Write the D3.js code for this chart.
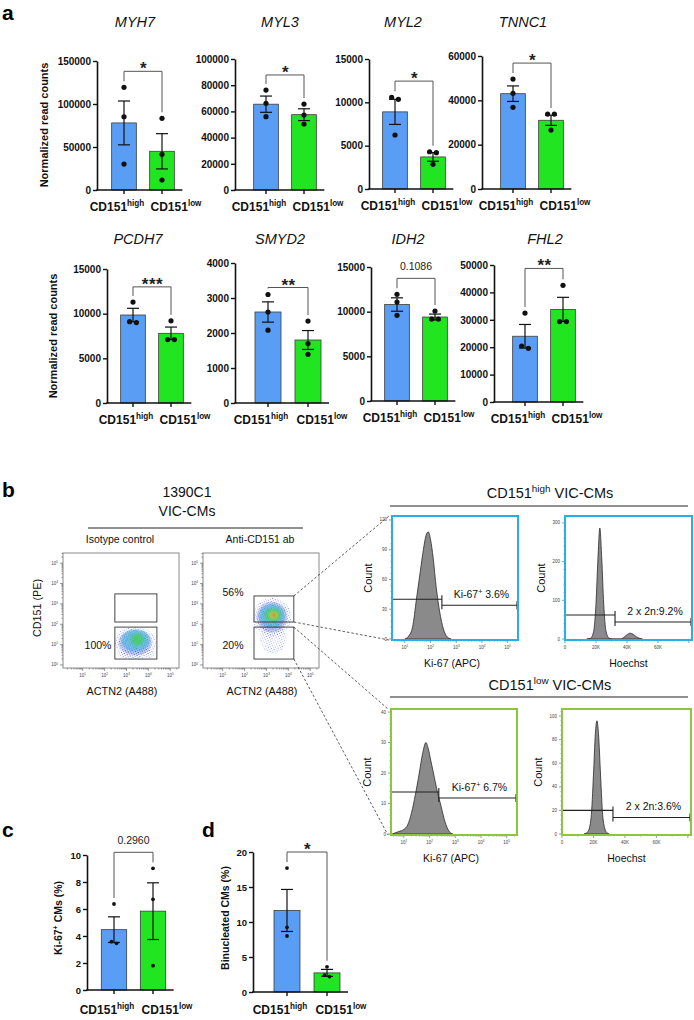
<!DOCTYPE html>
<html lang="en">
<head>
<meta charset="UTF-8">
<title>CD151 VIC-CMs</title>
<script src="https://cdn.jsdelivr.net/npm/d3@7"></script>
<style>
  body { margin: 0; background: #fff; }
  svg { font-family: Arial, "Liberation Sans", Helvetica, sans-serif; }
</style>
</head>
<body>
<svg width="694" height="1020"></svg>
<script>
// ---------- values ----------
const groups = ["CD151high", "CD151low"];
const groupSup = ["high", "low"];

const genes = ["MYH7", "MYL3", "MYL2", "TNNC1", "PCDH7", "SMYD2", "IDH2", "FHL2"];
const geneYMax = [150000, 100000, 15000, 60000, 15000, 4000, 15000, 50000];
const geneYStep = [50000, 20000, 5000, 20000, 5000, 1000, 5000, 10000];
const geneMean = [[78000, 45000], [65500, 57500], [8900, 3700], [43000, 31000],
                  [9850, 7800], [2600, 1800], [10800, 9400], [24000, 33800]];
const geneSem = [[25500, 20500], [6200, 4500], [1450, 500], [3500, 2300],
                 [750, 700], [290, 270], [750, 330], [4300, 4400]];
const genePoints = [
  [[119400, 85200, 30200], [83400, 41500, 11600]],
  [[76300, 66200, 56000], [65600, 57200, 50400]],
  [[10580, 10350, 6230], [4300, 4190, 2850]],
  [[49600, 43160, 36850], [33800, 33800, 26600]],
  [[11300, 9100, 9000], [9200, 7100, 7100]],
  [[3100, 2600, 2080], [2340, 1700, 1390]],
  [[11940, 11080, 9590], [10070, 9170, 9170]],
  [[32460, 20440, 19600], [42600, 29370, 29370]]
];
const geneSig = ["*", "*", "*", "*", "***", "**", "0.1086", "**"];
const geneBracket = [138000, 87800, 12450, 56800, 13000, 3300, 13730, 48750];

// panel c / d
const ki67Mean = [4.47, 5.84], ki67Sem = [0.95, 2.1];
const ki67Points = [[6.37, 3.58, 3.46], [9.01, 6.72, 1.80]];
const binucMean = [11.65, 2.73], binucSem = [3.0, 0.5];
const binucPoints = [[17.7, 9.24, 8.0], [3.6, 2.2, 2.4]];

// flow plots (log10 units): gates [xlo, xhi, ylo, yhi], density levels [cx, cy, rx, ry]
const isoGates = [[2.47, 4.39, 2.11, 3.49], [2.47, 4.39, 0.29, 1.86]];
const antiGates = [[2.43, 4.25, 2.11, 3.39], [2.43, 4.25, 0.29, 1.86]];
const isoCloud = [[3.4, 1.1, 0.95, 0.78], [3.42, 1.2, 0.65, 0.55], [3.5, 1.25, 0.3, 0.3]];
const isoTail = [3.45, 0.55, 0.85, 0.3];
const antiCloud = [[3.25, 2.35, 0.88, 0.95], [3.25, 2.4, 0.6, 0.6], [3.3, 2.45, 0.38, 0.34],
                   [3.32, 2.45, 0.2, 0.18], [3.33, 2.45, 0.1, 0.09]];
const antiTail = [3.3, 1.3, 0.6, 0.75];
const isoPct = ["100%"];
const antiPct = ["56%", "20%"];

// histograms
const kiHighX = [1.0, 1.15, 1.3, 1.45, 1.6, 1.72, 1.82, 1.91, 2.0, 2.1, 2.22, 2.35, 2.5, 2.65, 2.8];
const kiHighN = [0, 3, 12, 40, 68, 90, 104, 108, 100, 82, 52, 28, 10, 2, 0];
const kiLowX = [0.55, 0.8, 1.0, 1.15, 1.3, 1.45, 1.6, 1.72, 1.86, 1.95, 2.05, 2.15, 2.3, 2.45, 2.6, 2.75, 2.9];
const kiLowN = [0, 0.8, 1.5, 3, 7, 13, 20, 26, 30, 28, 24, 20, 14, 9, 4, 1, 0];
const hoHighX = [14, 16.5, 18.5, 20, 21.3, 22.5, 23.7, 25, 26.5, 28.5, 31, 36, 38, 40, 42, 44, 46, 48, 50];
const hoHighN = [0, 2, 20, 90, 210, 287, 210, 90, 20, 2, 0, 0, 4, 11, 15, 12, 6, 2, 0];
const hoLowX = [14, 16.5, 18.5, 20, 21.2, 22.2, 23.2, 24.5, 26, 28, 30];
const hoLowN = [0, 2, 14, 50, 85, 96, 85, 50, 14, 2, 0];
const gateSplit = [2.44, 32.3, 2.36, 32.4];
const gateLeftN = [40, 62, 13.8, 20];
const gateRightN = [34, 44, 11.8, 14];
const gateText = [["Ki-67", "+", " 3.6%"], ["2 x 2n:9.2%"], ["Ki-67", "+", " 6.7%"], ["2 x 2n:3.6%"]];

// ---------- drawing ----------
const svg = d3.select("svg");
const BLUE = "#5a9df5", GREEN = "#20e520";
const cloudColors = ["#2a3bd0", "#1fb8d8", "#3fd24a", "#e8e03a", "#e53a1e"];

const defs = svg.append("defs");
function dotPattern(id, spacing, r, color, shift) {
  const p = defs.append("pattern").attr("id", id).attr("width", spacing).attr("height", spacing)
    .attr("patternUnits", "userSpaceOnUse").attr("patternTransform", `rotate(${shift})`);
  p.append("circle").attr("cx", spacing * 0.3).attr("cy", spacing * 0.4).attr("r", r).attr("fill", color);
  p.append("circle").attr("cx", spacing * 0.8).attr("cy", spacing * 0.9).attr("r", r * 0.8).attr("fill", color);
}
dotPattern("dotsSparse", 3.1, 0.42, "#3548d8", 23);
dotPattern("dotsBlue", 1.9, 0.45, "#2232c0", 11);
dotPattern("dotsCyan", 1.6, 0.5, "#23b2dc", 37);
defs.append("filter").attr("id", "soft").attr("x", "-50%").attr("y", "-50%").attr("width", "200%").attr("height", "200%")
  .append("feGaussianBlur").attr("stdDeviation", 1.4);

function supLabel(g, x, y, base, sup, size, opts) {
  opts = opts || {};
  const t = g.append("text").attr("x", x).attr("y", y)
    .attr("text-anchor", opts.anchor || "middle")
    .attr("font-size", size).attr("font-weight", opts.weight || "normal")
    .attr("fill", "#111");
  if (opts.rotate) t.attr("transform", `rotate(-90,${x},${y})`);
  t.append("tspan").text(base);
  t.append("tspan").attr("font-size", size * 0.68).attr("dy", -size * 0.4).text(sup);
  if (opts.after) t.append("tspan").attr("dy", size * 0.4).text(opts.after);
  return t;
}

// spread points that would overlap, like Prism does
function spread(vals, y, r) {
  const py = vals.map(v => y(v));
  const off = vals.map(() => 0);
  const idx = d3.range(vals.length).sort((a, b) => py[a] - py[b]);
  let clusters = [], cur = [idx[0]];
  for (let k = 1; k < idx.length; k++) {
    if (py[idx[k]] - py[idx[k - 1]] < 2 * r) cur.push(idx[k]);
    else { clusters.push(cur); cur = [idx[k]]; }
  }
  clusters.push(cur);
  clusters.forEach(c => c.forEach((id, j) => off[id] = (j - (c.length - 1) / 2) * 2.6 * r));
  return off;
}

function barChart(L, o) {
  const g = svg.append("g");
  const step = L.step || 38;
  const c1 = L.ax + L.off;
  const y = d3.scaleLinear().domain([0, o.max]).range([L.base, L.top]);
  const x = d3.scaleBand().domain(groups)
    .range([c1 - step / 2, c1 + step * 1.5]).paddingInner(0.35).paddingOuter(0.175);
  const cx = d => x(d) + x.bandwidth() / 2;
  const colors = [BLUE, GREEN];

  g.selectAll("rect").data(groups).join("rect")
    .attr("x", d => x(d)).attr("width", x.bandwidth())
    .attr("y", (d, i) => y(o.mean[i]))
    .attr("height", (d, i) => y(0) - y(o.mean[i]))
    .attr("fill", (d, i) => colors[i]).attr("stroke", "#3c3c3c").attr("stroke-width", 0.8);

  groups.forEach((d, i) => {
    const lo = y(o.mean[i] - o.sem[i]), hi = y(o.mean[i] + o.sem[i]);
    const e = g.append("g").attr("stroke", "#111").attr("stroke-width", 1.2);
    e.append("line").attr("x1", cx(d)).attr("x2", cx(d)).attr("y1", lo).attr("y2", hi);
    [lo, hi].forEach(v => e.append("line").attr("x1", cx(d) - o.cap).attr("x2", cx(d) + o.cap)
      .attr("y1", v).attr("y2", v));
  });

  groups.forEach((d, i) => {
    const off = spread(o.points[i], y, o.r);
    g.selectAll(null).data(o.points[i]).join("circle")
      .attr("cx", (v, k) => cx(d) + off[k]).attr("cy", v => y(v))
      .attr("r", o.r).attr("fill", "#111");
  });

  const ya = g.append("g").attr("transform", `translate(${L.ax},0)`)
    .call(d3.axisLeft(y).tickValues(d3.range(0, o.max + o.step / 2, o.step))
      .tickSize(4).tickSizeOuter(0).tickPadding(2).tickFormat(d3.format("d")));
  ya.attr("font-family", null).attr("font-size", o.tickFont).attr("font-weight", "bold");
  ya.select(".domain").attr("stroke", "#111").attr("stroke-width", 1.6);
  ya.selectAll(".tick line").attr("stroke", "#111").attr("stroke-width", 1.4);
  ya.selectAll("text").attr("fill", "#111");

  const xEnd = cx(groups[1]) + x.bandwidth() / 2 + 8;
  const xa = g.append("g").attr("transform", `translate(0,${L.base})`)
    .call(d3.axisBottom(x).tickSize(4).tickFormat(""));
  xa.select(".domain").remove();
  xa.selectAll(".tick line").attr("stroke", "#111").attr("stroke-width", 1.4);
  g.append("line").attr("x1", L.ax - 0.8).attr("x2", xEnd).attr("y1", L.base).attr("y2", L.base)
    .attr("stroke", "#111").attr("stroke-width", 1.6);

  // significance bracket
  const by = y(o.bracket);
  const armEnd = i => y(Math.max(d3.max(o.points[i]), o.mean[i] + o.sem[i])) - 6;
  g.append("path")
    .attr("d", `M${cx(groups[0])},${armEnd(0)}V${by}H${cx(groups[1])}V${armEnd(1)}`)
    .attr("fill", "none").attr("stroke", "#555").attr("stroke-width", 1);
  const isStar = o.sig.startsWith("*");
  g.append("text").attr("x", (cx(groups[0]) + cx(groups[1])) / 2 + (isStar ? 0.5 : 0))
    .attr("y", isStar ? by + 3 : by - 8)
    .attr("text-anchor", "middle")
    .attr("font-size", isStar ? 17 : 10.5)
    .attr("font-weight", isStar ? "bold" : "normal")
    .attr("letter-spacing", isStar ? 0.5 : 0)
    .attr("fill", "#222")
    .text(o.sig);

  supLabel(g, cx(groups[0]) - 7, L.base + o.labelDy, "CD151", groupSup[0], 12, { weight: "bold" });
  supLabel(g, cx(groups[1]) + 14, L.base + o.labelDy, "CD151", groupSup[1], 12, { weight: "bold" });

  if (o.title) {
    g.append("text").attr("x", L.tx).attr("y", L.ty).attr("text-anchor", "middle")
      .attr("font-size", 14.5).attr("font-style", "italic").attr("fill", "#111").text(o.title);
  }
  return g;
}

// ---- panel a ----
const aLayout = [
  { ax: 97, off: 27, base: 190, top: 61, tx: 135, ty: 27 },
  { ax: 235, off: 31, base: 190, top: 59, tx: 280, ty: 27 },
  { ax: 369, off: 26, base: 189, top: 59, tx: 403, ty: 27 },
  { ax: 482, off: 31, base: 189, top: 56, tx: 523, ty: 27 },
  { ax: 107, off: 26, base: 403, top: 269, tx: 138, ty: 244 },
  { ax: 235, off: 33, base: 403, top: 263, tx: 280, ty: 244, step: 40 },
  { ax: 371, off: 26, base: 401, top: 267, tx: 408, ty: 244 },
  { ax: 494, off: 31, base: 402, top: 265, tx: 545, ty: 244 }
];
genes.forEach((gene, i) => {
  barChart(aLayout[i], {
    max: geneYMax[i], step: geneYStep[i], mean: geneMean[i], sem: geneSem[i],
    points: genePoints[i], sig: geneSig[i], bracket: geneBracket[i],
    r: 2.6, cap: 6, tickFont: 10, labelDy: 21, title: gene
  });
});
svg.append("text").attr("x", 48).attr("y", 125).attr("transform", "rotate(-90,48,125)")
  .attr("text-anchor", "middle").attr("font-size", 11).attr("font-weight", "bold")
  .attr("fill", "#111").text("Normalized read counts");
svg.append("text").attr("x", 57).attr("y", 336).attr("transform", "rotate(-90,57,336)")
  .attr("text-anchor", "middle").attr("font-size", 11).attr("font-weight", "bold")
  .attr("fill", "#111").text("Normalized read counts");

// ---- panel c / d ----
barChart({ ax: 87, off: 27, base: 990, top: 855, step: 39 }, {
  max: 10, step: 2, mean: ki67Mean, sem: ki67Sem, points: ki67Points, sig: "0.2960",
  bracket: 10.2, r: 1.9, cap: 6, tickFont: 9.5, labelDy: 24
});
barChart({ ax: 253, off: 34, base: 992, top: 852, step: 40 }, {
  max: 20, step: 5, mean: binucMean, sem: binucSem, points: binucPoints, sig: "*",
  bracket: 20, r: 1.9, cap: 6, tickFont: 9.5, labelDy: 22
});
supLabel(svg, 62, 918, "Ki-67", "+", 10.5, { weight: "bold", rotate: true, after: " CMs (%)" });
svg.append("text").attr("x", 229).attr("y", 918).attr("transform", "rotate(-90,229,918)")
  .attr("text-anchor", "middle").attr("font-size", 10.5).attr("font-weight", "bold")
  .attr("fill", "#111").text("Binucleated CMs (%)");

// ---- panel b : flow dot plots ----
function flowPlot(bx, gates, cloud, tail, pcts, pctY) {
  const by = 553, bw = 116, bh = 115;
  const x = d3.scaleLinear().domain([0.1, 5.4]).range([bx, bx + bw]);
  const y = d3.scaleLinear().domain([-0.15, 5.5]).range([by + bh, by]);
  const g = svg.append("g");
  const cid = "clip" + bx;
  defs.append("clipPath").attr("id", cid).append("rect")
    .attr("x", bx).attr("y", by).attr("width", bw).attr("height", bh);

  const cg = g.append("g").attr("clip-path", `url(#${cid})`);
  const ell = c => ({
    cx: x(c[0]), cy: y(c[1]),
    rx: x(c[0] + c[2]) - x(c[0]), ry: y(c[1]) - y(c[1] + c[3])
  });
  const put = (e, k, fill, op, blur) => cg.append("ellipse")
    .attr("cx", e.cx).attr("cy", e.cy).attr("rx", e.rx * k).attr("ry", e.ry * k)
    .attr("fill", fill).attr("opacity", op).attr("filter", blur ? "url(#soft)" : null);

  put(ell(tail), 1, "url(#dotsSparse)", 0.9, false);
  cloud.forEach((c, i) => {
    const e = ell(c);
    if (i === 0) {
      put(e, 1, "url(#dotsSparse)", 1, false);
      put(e, 0.8, "url(#dotsBlue)", 0.9, false);
      put(e, 0.75, cloudColors[0], 0.12, true);
    } else if (i === 1) {
      put(e, 1, "url(#dotsCyan)", 0.85, false);
      put(e, 0.9, cloudColors[1], 0.25, true);
    } else {
      put(e, 1, cloudColors[i], 0.7, true);
    }
  });

  // box and ticks
  g.append("rect").attr("x", bx).attr("y", by).attr("width", bw).attr("height", bh)
    .attr("fill", "none").attr("stroke", "#8a8a8a").attr("stroke-width", 1);
  const tg = g.append("g").attr("stroke", "#555").attr("stroke-width", 0.6);
  for (let n = 0; n <= 5; n++) {
    for (let k = 1; k <= 9; k++) {
      const v = n + Math.log10(k);
      const len = k === 1 ? 3 : 1.5;
      if (v >= 0.1 && v <= 5.4) tg.append("line").attr("x1", x(v)).attr("x2", x(v)).attr("y1", by + bh).attr("y2", by + bh + len);
      if (v >= -0.15 && v <= 5.5) tg.append("line").attr("x1", bx).attr("x2", bx - len).attr("y1", y(v)).attr("y2", y(v));
    }
    if (n >= 1) supLabel(g, x(n), by + bh + 9, "10", n, 4.5, { anchor: "middle" }).attr("fill", "#444");
    supLabel(g, bx - 5, y(n) + 1.5, "10", n, 4.5, { anchor: "end" }).attr("fill", "#444");
  }

  // gates
  gates.forEach(gt => {
    g.append("rect").attr("x", x(gt[0])).attr("y", y(gt[3]))
      .attr("width", x(gt[1]) - x(gt[0])).attr("height", y(gt[2]) - y(gt[3]))
      .attr("fill", "none").attr("stroke", "#333").attr("stroke-width", 0.9);
  });
  pcts.forEach((p, i) => {
    g.append("text").attr("x", pctY[i][0]).attr("y", pctY[i][1]).attr("text-anchor", "middle")
      .attr("font-size", 10.5).attr("fill", "#111").text(p);
  });
  g.append("text").attr("x", bx + bw / 2 + 1).attr("y", 695).attr("text-anchor", "middle")
    .attr("font-size", 10.8).attr("fill", "#111").text("ACTN2 (A488)");
  return { x, y };
}

const iso = flowPlot(63, isoGates, isoCloud, isoTail, isoPct, [[98, 649]]);
const anti = flowPlot(203, antiGates, antiCloud, antiTail, antiPct, [[233, 596], [233, 649]]);
svg.append("text").attr("x", 41).attr("y", 608).attr("transform", "rotate(-90,41,608)")
  .attr("text-anchor", "middle").attr("font-size", 10.8).attr("fill", "#111").text("CD151 (PE)");

svg.append("text").attr("x", 187).attr("y", 497).attr("text-anchor", "middle")
  .attr("font-size", 14).attr("fill", "#111").text("1390C1");
svg.append("text").attr("x", 187).attr("y", 516).attr("text-anchor", "middle")
  .attr("font-size", 14).attr("fill", "#111").text("VIC-CMs");
svg.append("line").attr("x1", 88).attr("x2", 303).attr("y1", 528).attr("y2", 528)
  .attr("stroke", "#222").attr("stroke-width", 1);
svg.append("text").attr("x", 120).attr("y", 543).attr("text-anchor", "middle")
  .attr("font-size", 10.5).attr("fill", "#111").text("Isotype control");
svg.append("text").attr("x", 260).attr("y", 543).attr("text-anchor", "middle")
  .attr("font-size", 10.5).attr("fill", "#111").text("Anti-CD151 ab");

// ---- panel b : histograms ----
const histLayout = [
  { x0: 392, y0: 516, w: 126, h: 124, color: "#2aaee6", log: true, yMax: 124, yTicks: [0, 30, 60, 90, 120] },
  { x0: 565, y0: 516, w: 127, h: 124, color: "#2aaee6", log: false, yMax: 318, yTicks: [0, 100, 200, 300] },
  { x0: 391, y0: 709, w: 126, h: 126, color: "#8cc63f", log: true, yMax: 41, yTicks: [0, 10, 20, 30, 40] },
  { x0: 562, y0: 709, w: 129, h: 126, color: "#8cc63f", log: false, yMax: 106, yTicks: [0, 20, 40, 60, 80, 100] }
];
const histX = [kiHighX, hoHighX, kiLowX, hoLowX];
const histN = [kiHighN, hoHighN, kiLowN, hoLowN];

function histPlot(L, cx, cn, i) {
  const g = svg.append("g");
  const x = d3.scaleLinear().domain(L.log ? [0.5, 5.4] : [0, 82]).range([L.x0, L.x0 + L.w]);
  const y = d3.scaleLinear().domain([0, L.yMax]).range([L.y0 + L.h - 1, L.y0]);
  const area = d3.area().x(d => x(d[0])).y0(y(0)).y1(d => y(d[1])).curve(d3.curveMonotoneX);
  g.append("path").datum(d3.zip(cx, cn)).attr("d", area)
    .attr("fill", "#8a8a8a").attr("stroke", "#2a2a2a").attr("stroke-width", 0.8);

  const tg = g.append("g").attr("stroke", "#555").attr("stroke-width", 0.6);
  const ystep = L.yTicks[1];
  for (let v = 0; v <= L.yMax; v += ystep / 5) {
    const major = Math.abs(v / ystep - Math.round(v / ystep)) < 1e-6;
    tg.append("line").attr("x1", L.x0).attr("x2", L.x0 - (major ? 3 : 1.5)).attr("y1", y(v)).attr("y2", y(v));
  }
  L.yTicks.forEach(v => g.append("text").attr("x", L.x0 - 5).attr("y", y(v) + 1.5)
    .attr("text-anchor", "end").attr("font-size", 4.5).attr("fill", "#444").text(v));
  const by = L.y0 + L.h;
  if (L.log) {
    for (let n = 0; n <= 5; n++) {
      for (let k = 1; k <= 9; k++) {
        const v = n + Math.log10(k);
        if (v < 0.5 || v > 5.4) continue;
        tg.append("line").attr("x1", x(v)).attr("x2", x(v)).attr("y1", by).attr("y2", by + (k === 1 ? 3 : 1.5));
      }
      if (n >= 1) supLabel(g, x(n), by + 9, "10", n, 4.5, { anchor: "middle" }).attr("fill", "#444");
    }
  } else {
    for (let v = 0; v <= 80; v += 10) {
      tg.append("line").attr("x1", x(v)).attr("x2", x(v)).attr("y1", by).attr("y2", by + (v % 20 === 0 ? 3 : 1.5));
    }
    [0, 20, 40, 60].forEach(v => g.append("text").attr("x", x(v)).attr("y", by + 9)
      .attr("text-anchor", "middle").attr("font-size", 4.5).attr("fill", "#444").text(v === 0 ? "0" : v + "K"));
  }

  // gate markers
  const gs = x(gateSplit[i]), gl = y(gateLeftN[i]), gr = y(gateRightN[i]), xr = L.x0 + L.w - 1;
  g.append("path")
    .attr("d", `M${L.x0},${gl}H${gs}M${gs},${gl - 4}V${gl + 4}M${gs},${gr}H${xr}M${gs},${gr - 4}V${gr + 4}M${xr},${gr - 4}V${gr + 4}`)
    .attr("fill", "none").attr("stroke", "#222").attr("stroke-width", 1.1);
  const t = gateText[i];
  if (t.length === 3) supLabel(g, (gs + xr) / 2 + 2, gr - 7, t[0], t[1], 10.5, { after: t[2] });
  else g.append("text").attr("x", (gs + xr) / 2 + 2).attr("y", gr - 7).attr("text-anchor", "middle")
    .attr("font-size", 10.5).attr("fill", "#111").text(t[0]);

  g.append("rect").attr("x", L.x0).attr("y", L.y0).attr("width", L.w).attr("height", L.h)
    .attr("fill", "none").attr("stroke", L.color).attr("stroke-width", 2);

  const cxL = L.x0 - 20;
  const cyL = L.y0 + L.h / 2;
  g.append("text").attr("x", cxL).attr("y", cyL).attr("transform", `rotate(-90,${cxL},${cyL})`)
    .attr("text-anchor", "middle").attr("font-size", 11).attr("fill", "#111").text("Count");
  g.append("text").attr("x", L.x0 + L.w / 2 + (L.log ? -3 : 0)).attr("y", by + 27).attr("text-anchor", "middle")
    .attr("font-size", 10.5).attr("fill", "#111").text(L.log ? "Ki-67 (APC)" : "Hoechst");
}
histLayout.forEach((L, i) => histPlot(L, histX[i], histN[i], i));

supLabel(svg, 550, 498, "CD151", "high", 14.5, { after: " VIC-CMs" });
supLabel(svg, 550, 690, "CD151", "low", 14.5, { after: " VIC-CMs" });
svg.append("line").attr("x1", 390).attr("x2", 688).attr("y1", 506).attr("y2", 506).attr("stroke", "#222");
svg.append("line").attr("x1", 390).attr("x2", 688).attr("y1", 697).attr("y2", 697).attr("stroke", "#222");

// dashed connectors from anti-CD151 gates to the histograms
const hi = antiGates[0], lo = antiGates[1];
const conn = [
  [anti.x(hi[1]), anti.y(hi[3]), histLayout[0].x0, histLayout[0].y0],
  [anti.x(hi[1]), anti.y(hi[2]), histLayout[0].x0, histLayout[0].y0 + histLayout[0].h],
  [anti.x(lo[1]), anti.y(lo[3]), histLayout[2].x0, histLayout[2].y0],
  [anti.x(lo[1]), anti.y(lo[2]), histLayout[2].x0, histLayout[2].y0 + histLayout[2].h]
];
svg.selectAll("line.conn").data(conn).join("line").attr("class", "conn")
  .attr("x1", d => d[0]).attr("y1", d => d[1]).attr("x2", d => d[2] - 3).attr("y2", d => d[3])
  .attr("stroke", "#333").attr("stroke-width", 0.8).attr("stroke-dasharray", "2.5,2");

// panel letters
[["a", 2, 20], ["b", 2, 497], ["c", 2, 837], ["d", 202, 837]].forEach(p => {
  svg.append("text").attr("x", p[1]).attr("y", p[2]).attr("font-size", 21)
    .attr("font-weight", "bold").attr("fill", "#000").text(p[0]);
});
</script>
</body>
</html>
